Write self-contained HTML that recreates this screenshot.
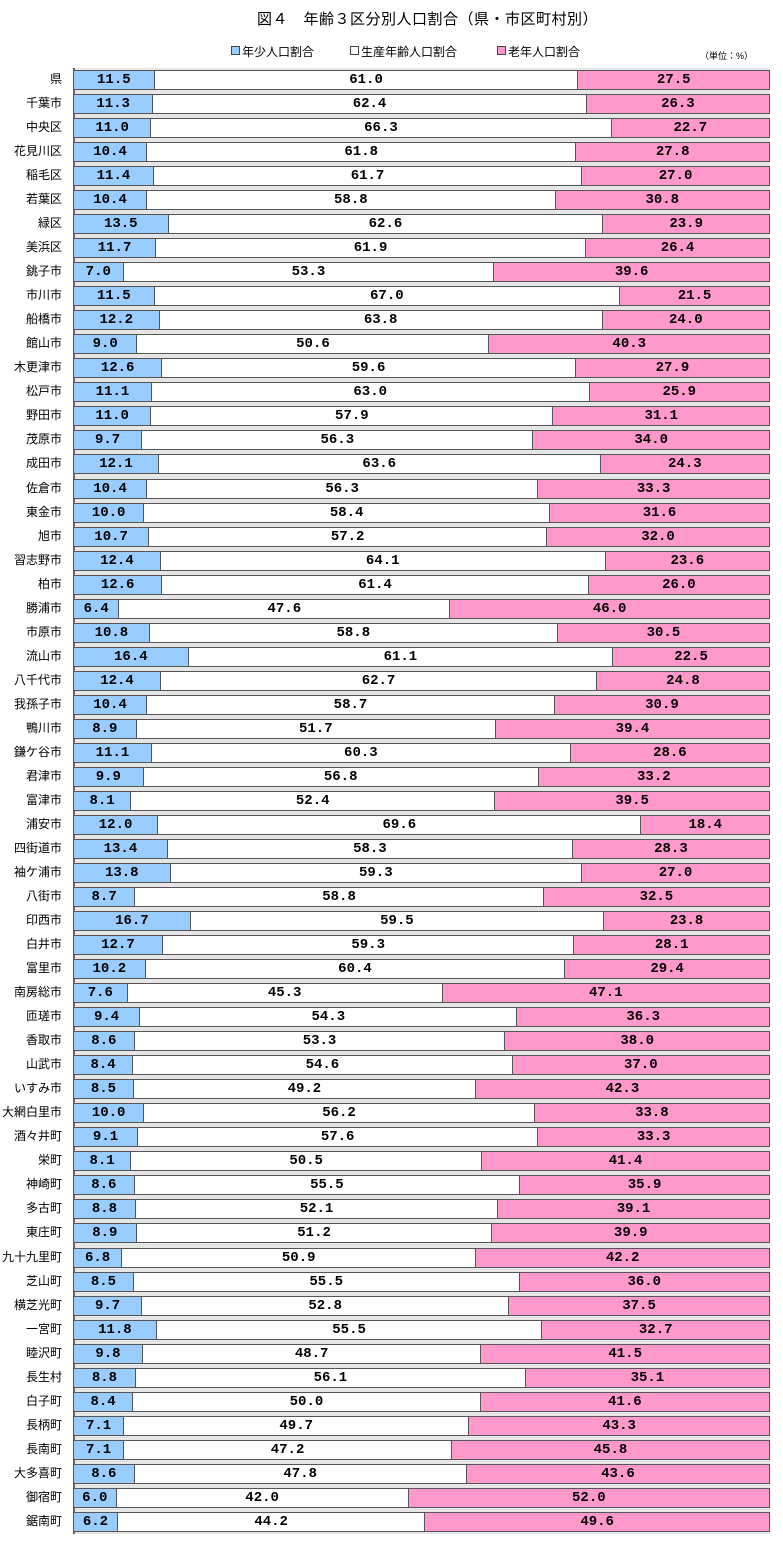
<!DOCTYPE html>
<html><head><meta charset="utf-8"><style>
body{margin:0;width:783px;height:1552px;background:#fff;position:relative;font-family:"Liberation Sans","Noto Sans CJK JP",sans-serif;overflow:hidden}
.t{position:absolute;left:257px;top:8px;font-size:15px;white-space:nowrap;letter-spacing:0.5px}
.lg{position:absolute;top:43px;font-size:12px;white-space:nowrap}
.sq{display:inline-block;width:7px;height:7px;border:1px solid #444;margin-right:2px;vertical-align:1px}
.u{position:absolute;left:700px;top:49px;font-size:9px}
.plot{position:absolute;left:73px;top:68px;width:697px;height:1466px;background:#e6e6e6;border-left:2px solid #666;box-sizing:border-box}
.r{position:absolute;left:0;height:24px;width:783px}
.lb{position:absolute;right:721px;top:2px;font-size:12px;white-space:nowrap;line-height:19px}
.b{position:absolute;left:73px;top:2px;width:697px;height:20px;display:flex}
.b span{flex-basis:0;min-width:0;box-sizing:border-box;border:1px solid #555;border-left-width:0;text-align:center;font:bold 14px "Liberation Mono","DejaVu Sans Mono",monospace;line-height:18px;overflow:hidden}
.b span:first-child{background:#99ccff;border-left-width:1px}
.b span:nth-child(2){background:#fff}
.b span:nth-child(3){background:#ff99cc}
</style></head><body>
<div class="t">図４　年齢３区分別人口割合（県・市区町村別）</div>
<div class="lg" style="left:231px"><span class="sq" style="background:#99ccff"></span>年少人口割合</div>
<div class="lg" style="left:350px"><span class="sq" style="background:#fff"></span>生産年齢人口割合</div>
<div class="lg" style="left:497px"><span class="sq" style="background:#ff99cc"></span>老年人口割合</div>
<div class="u">（単位：%）</div>
<div class="plot"></div>
<div class="r" style="top:68px"><div class="lb">県</div><div class="b"><span style="flex-grow:11.5">11.5</span><span style="flex-grow:61.0">61.0</span><span style="flex-grow:27.5">27.5</span></div></div>
<div class="r" style="top:92px"><div class="lb">千葉市</div><div class="b"><span style="flex-grow:11.3">11.3</span><span style="flex-grow:62.4">62.4</span><span style="flex-grow:26.3">26.3</span></div></div>
<div class="r" style="top:116px"><div class="lb">中央区</div><div class="b"><span style="flex-grow:11.0">11.0</span><span style="flex-grow:66.3">66.3</span><span style="flex-grow:22.7">22.7</span></div></div>
<div class="r" style="top:140px"><div class="lb">花見川区</div><div class="b"><span style="flex-grow:10.4">10.4</span><span style="flex-grow:61.8">61.8</span><span style="flex-grow:27.8">27.8</span></div></div>
<div class="r" style="top:164px"><div class="lb">稲毛区</div><div class="b"><span style="flex-grow:11.4">11.4</span><span style="flex-grow:61.7">61.7</span><span style="flex-grow:27.0">27.0</span></div></div>
<div class="r" style="top:188px"><div class="lb">若葉区</div><div class="b"><span style="flex-grow:10.4">10.4</span><span style="flex-grow:58.8">58.8</span><span style="flex-grow:30.8">30.8</span></div></div>
<div class="r" style="top:212px"><div class="lb">緑区</div><div class="b"><span style="flex-grow:13.5">13.5</span><span style="flex-grow:62.6">62.6</span><span style="flex-grow:23.9">23.9</span></div></div>
<div class="r" style="top:236px"><div class="lb">美浜区</div><div class="b"><span style="flex-grow:11.7">11.7</span><span style="flex-grow:61.9">61.9</span><span style="flex-grow:26.4">26.4</span></div></div>
<div class="r" style="top:260px"><div class="lb">銚子市</div><div class="b"><span style="flex-grow:7.0">7.0</span><span style="flex-grow:53.3">53.3</span><span style="flex-grow:39.6">39.6</span></div></div>
<div class="r" style="top:284px"><div class="lb">市川市</div><div class="b"><span style="flex-grow:11.5">11.5</span><span style="flex-grow:67.0">67.0</span><span style="flex-grow:21.5">21.5</span></div></div>
<div class="r" style="top:308px"><div class="lb">船橋市</div><div class="b"><span style="flex-grow:12.2">12.2</span><span style="flex-grow:63.8">63.8</span><span style="flex-grow:24.0">24.0</span></div></div>
<div class="r" style="top:332px"><div class="lb">館山市</div><div class="b"><span style="flex-grow:9.0">9.0</span><span style="flex-grow:50.6">50.6</span><span style="flex-grow:40.3">40.3</span></div></div>
<div class="r" style="top:356px"><div class="lb">木更津市</div><div class="b"><span style="flex-grow:12.6">12.6</span><span style="flex-grow:59.6">59.6</span><span style="flex-grow:27.9">27.9</span></div></div>
<div class="r" style="top:380px"><div class="lb">松戸市</div><div class="b"><span style="flex-grow:11.1">11.1</span><span style="flex-grow:63.0">63.0</span><span style="flex-grow:25.9">25.9</span></div></div>
<div class="r" style="top:404px"><div class="lb">野田市</div><div class="b"><span style="flex-grow:11.0">11.0</span><span style="flex-grow:57.9">57.9</span><span style="flex-grow:31.1">31.1</span></div></div>
<div class="r" style="top:428px"><div class="lb">茂原市</div><div class="b"><span style="flex-grow:9.7">9.7</span><span style="flex-grow:56.3">56.3</span><span style="flex-grow:34.0">34.0</span></div></div>
<div class="r" style="top:452px"><div class="lb">成田市</div><div class="b"><span style="flex-grow:12.1">12.1</span><span style="flex-grow:63.6">63.6</span><span style="flex-grow:24.3">24.3</span></div></div>
<div class="r" style="top:477px"><div class="lb">佐倉市</div><div class="b"><span style="flex-grow:10.4">10.4</span><span style="flex-grow:56.3">56.3</span><span style="flex-grow:33.3">33.3</span></div></div>
<div class="r" style="top:501px"><div class="lb">東金市</div><div class="b"><span style="flex-grow:10.0">10.0</span><span style="flex-grow:58.4">58.4</span><span style="flex-grow:31.6">31.6</span></div></div>
<div class="r" style="top:525px"><div class="lb">旭市</div><div class="b"><span style="flex-grow:10.7">10.7</span><span style="flex-grow:57.2">57.2</span><span style="flex-grow:32.0">32.0</span></div></div>
<div class="r" style="top:549px"><div class="lb">習志野市</div><div class="b"><span style="flex-grow:12.4">12.4</span><span style="flex-grow:64.1">64.1</span><span style="flex-grow:23.6">23.6</span></div></div>
<div class="r" style="top:573px"><div class="lb">柏市</div><div class="b"><span style="flex-grow:12.6">12.6</span><span style="flex-grow:61.4">61.4</span><span style="flex-grow:26.0">26.0</span></div></div>
<div class="r" style="top:597px"><div class="lb">勝浦市</div><div class="b"><span style="flex-grow:6.4">6.4</span><span style="flex-grow:47.6">47.6</span><span style="flex-grow:46.0">46.0</span></div></div>
<div class="r" style="top:621px"><div class="lb">市原市</div><div class="b"><span style="flex-grow:10.8">10.8</span><span style="flex-grow:58.8">58.8</span><span style="flex-grow:30.5">30.5</span></div></div>
<div class="r" style="top:645px"><div class="lb">流山市</div><div class="b"><span style="flex-grow:16.4">16.4</span><span style="flex-grow:61.1">61.1</span><span style="flex-grow:22.5">22.5</span></div></div>
<div class="r" style="top:669px"><div class="lb">八千代市</div><div class="b"><span style="flex-grow:12.4">12.4</span><span style="flex-grow:62.7">62.7</span><span style="flex-grow:24.8">24.8</span></div></div>
<div class="r" style="top:693px"><div class="lb">我孫子市</div><div class="b"><span style="flex-grow:10.4">10.4</span><span style="flex-grow:58.7">58.7</span><span style="flex-grow:30.9">30.9</span></div></div>
<div class="r" style="top:717px"><div class="lb">鴨川市</div><div class="b"><span style="flex-grow:8.9">8.9</span><span style="flex-grow:51.7">51.7</span><span style="flex-grow:39.4">39.4</span></div></div>
<div class="r" style="top:741px"><div class="lb">鎌ケ谷市</div><div class="b"><span style="flex-grow:11.1">11.1</span><span style="flex-grow:60.3">60.3</span><span style="flex-grow:28.6">28.6</span></div></div>
<div class="r" style="top:765px"><div class="lb">君津市</div><div class="b"><span style="flex-grow:9.9">9.9</span><span style="flex-grow:56.8">56.8</span><span style="flex-grow:33.2">33.2</span></div></div>
<div class="r" style="top:789px"><div class="lb">富津市</div><div class="b"><span style="flex-grow:8.1">8.1</span><span style="flex-grow:52.4">52.4</span><span style="flex-grow:39.5">39.5</span></div></div>
<div class="r" style="top:813px"><div class="lb">浦安市</div><div class="b"><span style="flex-grow:12.0">12.0</span><span style="flex-grow:69.6">69.6</span><span style="flex-grow:18.4">18.4</span></div></div>
<div class="r" style="top:837px"><div class="lb">四街道市</div><div class="b"><span style="flex-grow:13.4">13.4</span><span style="flex-grow:58.3">58.3</span><span style="flex-grow:28.3">28.3</span></div></div>
<div class="r" style="top:861px"><div class="lb">袖ケ浦市</div><div class="b"><span style="flex-grow:13.8">13.8</span><span style="flex-grow:59.3">59.3</span><span style="flex-grow:27.0">27.0</span></div></div>
<div class="r" style="top:885px"><div class="lb">八街市</div><div class="b"><span style="flex-grow:8.7">8.7</span><span style="flex-grow:58.8">58.8</span><span style="flex-grow:32.5">32.5</span></div></div>
<div class="r" style="top:909px"><div class="lb">印西市</div><div class="b"><span style="flex-grow:16.7">16.7</span><span style="flex-grow:59.5">59.5</span><span style="flex-grow:23.8">23.8</span></div></div>
<div class="r" style="top:933px"><div class="lb">白井市</div><div class="b"><span style="flex-grow:12.7">12.7</span><span style="flex-grow:59.3">59.3</span><span style="flex-grow:28.1">28.1</span></div></div>
<div class="r" style="top:957px"><div class="lb">富里市</div><div class="b"><span style="flex-grow:10.2">10.2</span><span style="flex-grow:60.4">60.4</span><span style="flex-grow:29.4">29.4</span></div></div>
<div class="r" style="top:981px"><div class="lb">南房総市</div><div class="b"><span style="flex-grow:7.6">7.6</span><span style="flex-grow:45.3">45.3</span><span style="flex-grow:47.1">47.1</span></div></div>
<div class="r" style="top:1005px"><div class="lb">匝瑳市</div><div class="b"><span style="flex-grow:9.4">9.4</span><span style="flex-grow:54.3">54.3</span><span style="flex-grow:36.3">36.3</span></div></div>
<div class="r" style="top:1029px"><div class="lb">香取市</div><div class="b"><span style="flex-grow:8.6">8.6</span><span style="flex-grow:53.3">53.3</span><span style="flex-grow:38.0">38.0</span></div></div>
<div class="r" style="top:1053px"><div class="lb">山武市</div><div class="b"><span style="flex-grow:8.4">8.4</span><span style="flex-grow:54.6">54.6</span><span style="flex-grow:37.0">37.0</span></div></div>
<div class="r" style="top:1077px"><div class="lb">いすみ市</div><div class="b"><span style="flex-grow:8.5">8.5</span><span style="flex-grow:49.2">49.2</span><span style="flex-grow:42.3">42.3</span></div></div>
<div class="r" style="top:1101px"><div class="lb">大網白里市</div><div class="b"><span style="flex-grow:10.0">10.0</span><span style="flex-grow:56.2">56.2</span><span style="flex-grow:33.8">33.8</span></div></div>
<div class="r" style="top:1125px"><div class="lb">酒々井町</div><div class="b"><span style="flex-grow:9.1">9.1</span><span style="flex-grow:57.6">57.6</span><span style="flex-grow:33.3">33.3</span></div></div>
<div class="r" style="top:1149px"><div class="lb">栄町</div><div class="b"><span style="flex-grow:8.1">8.1</span><span style="flex-grow:50.5">50.5</span><span style="flex-grow:41.4">41.4</span></div></div>
<div class="r" style="top:1173px"><div class="lb">神崎町</div><div class="b"><span style="flex-grow:8.6">8.6</span><span style="flex-grow:55.5">55.5</span><span style="flex-grow:35.9">35.9</span></div></div>
<div class="r" style="top:1197px"><div class="lb">多古町</div><div class="b"><span style="flex-grow:8.8">8.8</span><span style="flex-grow:52.1">52.1</span><span style="flex-grow:39.1">39.1</span></div></div>
<div class="r" style="top:1221px"><div class="lb">東庄町</div><div class="b"><span style="flex-grow:8.9">8.9</span><span style="flex-grow:51.2">51.2</span><span style="flex-grow:39.9">39.9</span></div></div>
<div class="r" style="top:1246px"><div class="lb">九十九里町</div><div class="b"><span style="flex-grow:6.8">6.8</span><span style="flex-grow:50.9">50.9</span><span style="flex-grow:42.2">42.2</span></div></div>
<div class="r" style="top:1270px"><div class="lb">芝山町</div><div class="b"><span style="flex-grow:8.5">8.5</span><span style="flex-grow:55.5">55.5</span><span style="flex-grow:36.0">36.0</span></div></div>
<div class="r" style="top:1294px"><div class="lb">横芝光町</div><div class="b"><span style="flex-grow:9.7">9.7</span><span style="flex-grow:52.8">52.8</span><span style="flex-grow:37.5">37.5</span></div></div>
<div class="r" style="top:1318px"><div class="lb">一宮町</div><div class="b"><span style="flex-grow:11.8">11.8</span><span style="flex-grow:55.5">55.5</span><span style="flex-grow:32.7">32.7</span></div></div>
<div class="r" style="top:1342px"><div class="lb">睦沢町</div><div class="b"><span style="flex-grow:9.8">9.8</span><span style="flex-grow:48.7">48.7</span><span style="flex-grow:41.5">41.5</span></div></div>
<div class="r" style="top:1366px"><div class="lb">長生村</div><div class="b"><span style="flex-grow:8.8">8.8</span><span style="flex-grow:56.1">56.1</span><span style="flex-grow:35.1">35.1</span></div></div>
<div class="r" style="top:1390px"><div class="lb">白子町</div><div class="b"><span style="flex-grow:8.4">8.4</span><span style="flex-grow:50.0">50.0</span><span style="flex-grow:41.6">41.6</span></div></div>
<div class="r" style="top:1414px"><div class="lb">長柄町</div><div class="b"><span style="flex-grow:7.1">7.1</span><span style="flex-grow:49.7">49.7</span><span style="flex-grow:43.3">43.3</span></div></div>
<div class="r" style="top:1438px"><div class="lb">長南町</div><div class="b"><span style="flex-grow:7.1">7.1</span><span style="flex-grow:47.2">47.2</span><span style="flex-grow:45.8">45.8</span></div></div>
<div class="r" style="top:1462px"><div class="lb">大多喜町</div><div class="b"><span style="flex-grow:8.6">8.6</span><span style="flex-grow:47.8">47.8</span><span style="flex-grow:43.6">43.6</span></div></div>
<div class="r" style="top:1486px"><div class="lb">御宿町</div><div class="b"><span style="flex-grow:6.0">6.0</span><span style="flex-grow:42.0">42.0</span><span style="flex-grow:52.0">52.0</span></div></div>
<div class="r" style="top:1510px"><div class="lb">鋸南町</div><div class="b"><span style="flex-grow:6.2">6.2</span><span style="flex-grow:44.2">44.2</span><span style="flex-grow:49.6">49.6</span></div></div>
</body></html>
